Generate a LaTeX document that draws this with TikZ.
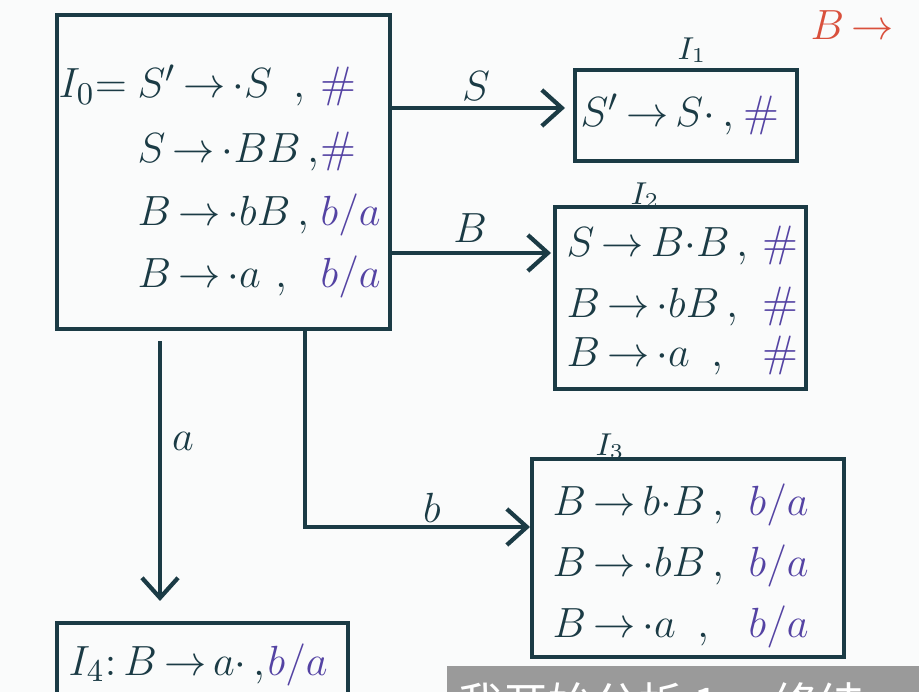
\documentclass[tikz,border=0pt]{standalone}
\usepackage{fontspec}
\newfontfamily\cjkfont{Noto Sans CJK SC}
\usetikzlibrary{positioning, arrows.meta, calc}
\definecolor{inkdark}{HTML}{1B3B45}
\definecolor{inkpurple}{HTML}{5443A3}
\definecolor{inkred}{HTML}{D9503C}
\definecolor{subgray}{HTML}{9A9A9A}
\definecolor{paper}{HTML}{FAFBFB}
\thickmuskip=3mu

\begin{document}
\begin{tikzpicture}[x=0.01cm, y=-0.01cm, font=\fontsize{12.5}{15}\selectfont,
    state/.style={draw=inkdark, line width=1.2pt, anchor=north west, inner sep=0pt},
    prod/.style={text=inkdark, anchor=base west, inner sep=0pt},
    look/.style={text=inkpurple, anchor=base west, inner sep=0pt},
    arr/.style={draw=inkdark, line width=1.2pt, -{Straight Barb[length=2mm, width=3.6mm]}},
    lbl/.style={text=inkdark, inner sep=0pt},
    setname/.style={text=inkdark, inner sep=0pt, font=\fontsize{9}{10}\selectfont}]
  \clip (0,0) rectangle (919,692);
  \fill[paper] (0,0) rectangle (919,692);

  % item sets
  \node[state, minimum width=3.33cm, minimum height=3.14cm] (i0) at (55,13) {};
  \node[state, minimum width=2.22cm, minimum height=0.91cm] (i1) at (573,68) {};
  \node[state, minimum width=2.51cm, minimum height=1.82cm] (i2) at (553,205) {};
  \node[state, minimum width=3.12cm, minimum height=1.98cm] (i3) at (530,457) {};
  \node[state, minimum width=2.91cm, minimum height=1.5cm] (i4) at (55,621) {};

  % I0
  \node[prod] (t0) at (58,98) {$I_0\!=$};
  \foreach \yy/\pp/\ll [count=\k] in {98/{S'\to\cdot S\;\;}/\#, 163/{S\to\cdot BB}/\#,
      226/{B\to\cdot bB}/{$b/a$}, 288/{B\to\cdot a\;}/{$b/a$}} {
    \node[prod] (p0\k) at (137,\yy) {$\pp$\,,};
    \node[look] (l0\k) at (320,\yy) {\ll};
  }

  % I1
  \node[setname] (n1) at (692,50) {$I_1$};
  \node[prod] (p11) at (580,127) {$S'\to S\cdot\;$,};
  \node[look] (l11) at (743,127) {\#};

  % I2
  \node[setname] (n2) at (645,195) {$I_2$};
  \foreach \yy/\pp [count=\k] in {257/{S\to B{\cdot}B}, 318/{B\to\cdot bB}, 367/{B\to\cdot a\;\;}} {
    \node[prod] (p2\k) at (566,\yy) {$\pp$\,,};
    \node[look] (l2\k) at (762,\yy) {\#};
  }

  % I3
  \node[setname] (n3) at (610,446) {$I_3$};
  \foreach \yy/\pp [count=\k] in {515/{B\to b{\cdot}B}, 577/{B\to\cdot bB}, 637/{B\to\cdot a\;\;}} {
    \node[prod] (p3\k) at (552,\yy) {$\pp$\,,};
    \node[look] (l3\k) at (748,\yy) {$b/a$};
  }

  % I4
  \node[prod] (p41) at (68,675) {$I_4\!: B\to a\cdot$\,,};
  \node[look] (l41) at (267,675) {$b/a$};

  % transitions
  \draw[arr, shorten >=0.08cm] (i0.east |- 0,108) -- (i1.west |- 0,108);
  \draw[arr, shorten >=0.02cm] (i0.east |- 0,253) -- (i2.west |- 0,253);
  \draw[arr, shorten <=0.1cm, shorten >=0.2cm] (i0.south -| 160,0) -- (i4.north -| 160,0);
  \draw[arr] (i0.south -| 305,0) |- (i3.west |- 0,527);
  \node[lbl] (ls) at (476,86) {$S$};
  \node[lbl] (lb) at (470,228) {$B$};
  \node[lbl] (la) at (183,441) {$a$};
  \node[lbl] (lsb) at (432,508) {$b$};

  % red note and subtitle
  \node[text=inkred, inner sep=0pt] (note) at (852,25) {$B\to$};
  \fill[subgray] (447,666) rectangle (919,692);
  \node[text=white, anchor=base west, inner sep=0pt, font=\cjkfont\fontsize{12.8}{14}\selectfont] (sub) at (458,720) {我开始分析 1 ，终结};
\end{tikzpicture}
\end{document}
